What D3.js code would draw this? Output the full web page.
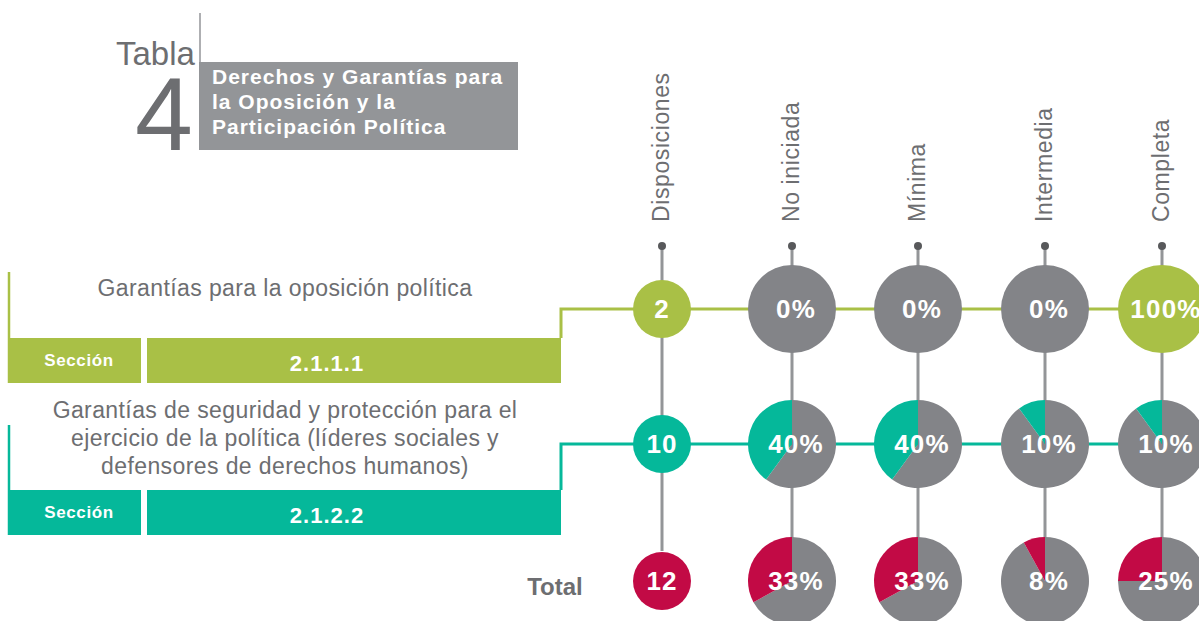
<!DOCTYPE html>
<html>
<head>
<meta charset="utf-8">
<script src="https://cdn.jsdelivr.net/npm/d3@7"></script>
<style>
  body { margin: 0; background: #fff; }
  svg { display: block; font-family: "Liberation Sans", Arial, Helvetica, sans-serif; }
</style>
</head>
<body>
<div id="chart"></div>
<script>
// data
var columns = ["Disposiciones", "No iniciada", "Mínima", "Intermedia", "Completa"];
var rowKeys = ["oposicion", "seguridad", "total"];
var rowLabels = [
    ["Garantías para la oposición política"],
    ["Garantías de seguridad y protección para el", "ejercicio de la política (líderes sociales y", "defensores de derechos humanos)"],
    ["Total"]
];
var sections = ["2.1.1.1", "2.1.2.2"];
var disposiciones = [2, 10, 12];
// % per state (No iniciada, Mínima, Intermedia, Completa)
var pctOposicion = [0, 0, 0, 100];
var pctSeguridad = [40, 40, 10, 10];
var pctTotal = [33, 33, 8, 25];
var pctRows = [pctOposicion, pctSeguridad, pctTotal];

var rowColors = ["#a9c046", "#05b89a", "#c20a45"];
var grey = "#838488";
var textGrey = "#6d6e71";

var W = 1199, H = 621;

var svg = d3.select("#chart").append("svg")
    .attr("width", W)
    .attr("height", H);

// setup scales
var x = d3.scaleOrdinal().domain(columns).range([662, 792, 918, 1045, 1162]);
var y = d3.scaleOrdinal().domain(rowKeys).range([309, 444, 581]);

// title
svg.append("text")
    .attr("x", 116).attr("y", 65)
    .attr("fill", textGrey)
    .style("font-size", "33px")
    .text("Tabla");
svg.append("text")
    .attr("x", 135).attr("y", 150)
    .attr("fill", textGrey)
    .style("font-size", "104px")
    .text("4");
svg.append("line")
    .attr("x1", 200).attr("x2", 200)
    .attr("y1", 13).attr("y2", 150)
    .style("stroke", "#939598").style("stroke-width", 1.5);
svg.append("rect")
    .attr("x", 199).attr("y", 62)
    .attr("width", 319).attr("height", 88)
    .attr("fill", "#939598");
var titleLines = ["Derechos y Garantías para", "la Oposición y la", "Participación Política"];
svg.append("g").selectAll("text")
    .data(titleLines)
    .enter().append("text")
    .attr("x", 212)
    .attr("y", function(d, i) { return 84 + i * 25; })
    .attr("fill", "#fff")
    .style("font-size", "21px")
    .style("font-weight", "bold")
    .style("letter-spacing", "1px")
    .text(function(d) { return d; });

// column headers
columns.forEach(function(c) {
    svg.append("text")
        .attr("transform", "translate(" + (x(c) + 7) + ",222) rotate(-90)")
        .attr("fill", textGrey)
        .style("font-size", "23px")
        .style("letter-spacing", "0.6px")
        .text(c);
    svg.append("line")
        .attr("x1", x(c)).attr("x2", x(c))
        .attr("y1", 246).attr("y2", y("total") - 30)
        .style("stroke", "#939598").style("stroke-width", 3);
    svg.append("circle")
        .attr("cx", x(c)).attr("cy", 246).attr("r", 4)
        .attr("fill", "#58595b");
});

// left blocks for the two sections
var sectionTop = [272, 425];
var barTop = [338, 490];
var barH = 45;
sections.forEach(function(s, i) {
    var col = rowColors[i];
    var yl = y(rowKeys[i]);
    var g = svg.append("g");
    g.append("line")
        .attr("x1", 9).attr("x2", 9)
        .attr("y1", sectionTop[i]).attr("y2", barTop[i] + barH)
        .style("stroke", col).style("stroke-width", 2.5);
    g.append("path")
        .attr("d", "M561," + barTop[i] + "V" + yl + "H" + W)
        .style("fill", "none").style("stroke", col).style("stroke-width", 3);
    g.append("rect")
        .attr("x", 8).attr("y", barTop[i])
        .attr("width", 133).attr("height", barH)
        .attr("fill", col);
    g.append("rect")
        .attr("x", 147).attr("y", barTop[i])
        .attr("width", 414).attr("height", barH)
        .attr("fill", col);
    g.append("text")
        .attr("x", 79).attr("y", barTop[i] + 28)
        .attr("text-anchor", "middle")
        .attr("fill", "#fff")
        .style("font-size", "17px").style("font-weight", "bold")
        .style("letter-spacing", "0.6px")
        .text("Sección");
    g.append("text")
        .attr("x", 327).attr("y", barTop[i] + 33)
        .attr("text-anchor", "middle")
        .attr("fill", "#fff")
        .style("font-size", "22px").style("font-weight", "bold")
        .style("letter-spacing", "1px")
        .text(s);
});

// row labels
var labelY = [[296], [418, 446, 474]];
rowLabels.slice(0, 2).forEach(function(lines, i) {
    svg.append("g").selectAll("text")
        .data(lines)
        .enter().append("text")
        .attr("x", 285)
        .attr("y", function(d, j) { return labelY[i][j]; })
        .attr("text-anchor", "middle")
        .attr("fill", textGrey)
        .style("font-size", "23px")
        .style("letter-spacing", "0.4px")
        .text(function(d) { return d; });
});
svg.append("text")
    .attr("x", 555).attr("y", 595)
    .attr("text-anchor", "middle")
    .attr("fill", textGrey)
    .style("font-size", "24px").style("font-weight", "bold")
    .text(rowLabels[2][0]);

// disposiciones circles
rowKeys.forEach(function(k, i) {
    svg.append("circle")
        .attr("cx", x(columns[0])).attr("cy", y(k)).attr("r", 29)
        .attr("fill", rowColors[i]);
    svg.append("text")
        .attr("x", x(columns[0])).attr("y", y(k) + 9)
        .attr("text-anchor", "middle")
        .attr("fill", "#fff")
        .style("font-size", "26px").style("font-weight", "bold")
        .style("letter-spacing", "1px")
        .text(disposiciones[i]);
});

// pies
var pie = d3.pie().sort(null).value(function(d) { return d.v; });
var arc = d3.arc().innerRadius(0).outerRadius(44);

rowKeys.forEach(function(k, i) {
    pctRows[i].forEach(function(p, j) {
        var c = columns[j + 1];
        var g = svg.append("g")
            .attr("transform", "translate(" + x(c) + "," + y(k) + ")");
        g.selectAll("path")
            .data(pie([{ v: 100 - p, color: grey }, { v: p, color: rowColors[i] }]))
            .enter().append("path")
            .attr("d", arc)
            .attr("fill", function(d) { return d.data.color; });
        g.append("text")
            .attr("x", 4).attr("y", 9)
            .attr("text-anchor", "middle")
            .attr("fill", "#fff")
            .style("font-size", "26px").style("font-weight", "bold")
            .style("letter-spacing", "1.2px")
            .text(p + "%");
    });
});
</script>
</body>
</html>
